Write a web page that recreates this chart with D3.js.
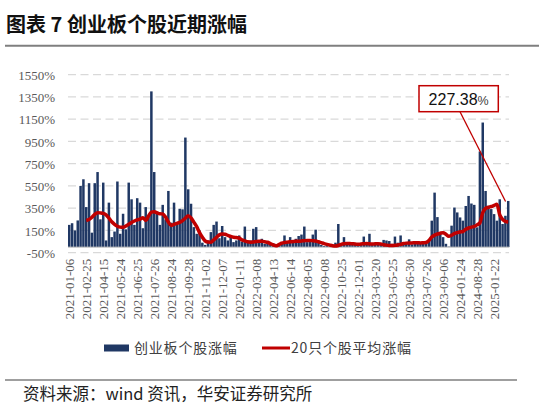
<!DOCTYPE html>
<html>
<head>
<meta charset="utf-8">
<script src="https://cdn.jsdelivr.net/npm/d3@7"></script>
<style>
  html, body { margin: 0; padding: 0; background: #fff; }
  svg { display: block; }
</style>
</head>
<body>
<div id="chart"></div>
<script>
// ── Data ─────────────────────────────────────────────────────────────────────
// x-axis labels, one every 6 bars
const tickLabels = [
  '2021-01-06', '2021-02-25', '2021-04-15', '2021-05-24', '2021-06-25', '2021-07-26',
  '2021-08-24', '2021-09-28', '2021-11-02', '2021-12-07', '2022-01-11', '2022-03-08',
  '2022-04-13', '2022-06-14', '2022-08-05', '2022-09-08', '2022-10-25', '2022-12-01',
  '2023-03-20', '2023-05-25', '2023-06-30', '2023-07-26', '2023-09-06', '2024-01-24',
  '2024-08-28', '2025-01-22'
];
const labelStep = 6;

const yTicks = [-50, 150, 350, 550, 750, 950, 1150, 1350, 1550];

// 创业板个股涨幅 (%), one bar per stock group
const stockGains = [
  200, 215, 150, 240, 550, 610, 360, 575, 130, 575,
  675, 250, 580, 60, 400, 90, 140, 590, 120, 300,
  160, 580, 430, 200, 440, 400, 170, 360, 280, 1400,
  675, 320, 200, 380, 250, 505, 220, 400, 200, 345,
  340, 985, 520, 390, 180, 120, 150, 40, 20, 60,
  135, 200, 230, 80, 190, 90, 60, 90, 45, 60,
  105, 50, 185, 40, 60, 165, 180, 40, 75, 30,
  50, 25, 35, 15, 30, 45, 105, 40, 90, 55,
  75, 100, 113, 185, 45, 60, 113, 157, 40, 20,
  10, 15, 5, 20, 40, 208, 35, 90, 30, 25,
  40, 20, 35, 30, 95, 40, 120, 30, 25, 20,
  35, 65, 60, 55, 30, 95, 40, 105, 30, 45,
  70, 25, 40, 30, 45, 35, 50, 60, 238, 490,
  270, 120, 90, 30, 5, 193, 356, 312, 267, 238,
  370, 460, 392, 380, 178, 860, 1120, 505, 372, 342,
  297, 238, 430, 208, 282, 415
];

// 20只个股平均涨幅 (%), starts at bar 6
const avgStart = 6;
const avgGains = [
  240, 248, 268, 295, 310, 308, 303, 290, 262, 228,
  205, 188, 180, 178, 190, 205, 222, 235, 245, 252,
  265, 240, 280, 315, 318, 308, 300, 298, 270, 225,
  195, 205, 214, 222, 238, 260, 282, 262, 225, 185,
  130, 89, 55, 46, 45, 65, 88, 110, 117, 115,
  106, 96, 89, 86, 82, 65, 56, 48, 45, 47,
  50, 52, 52, 48, 44, 32, 20, 12, 22, 35,
  42, 45, 48, 50, 52, 53, 55, 58, 60, 60,
  58, 55, 48, 40, 32, 25, 18, 12, 10, 15,
  25, 30, 32, 32, 30, 28, 25, 28, 30, 32,
  30, 28, 30, 30, 28, 22, 18, 15, 14, 16,
  20, 25, 32, 36, 38, 38, 40, 40, 38, 40,
  42, 60, 92, 108, 118, 125, 130, 115, 98, 108,
  122, 130, 136, 140, 160, 172, 180, 186, 200, 218,
  310, 348, 358, 365, 375, 385, 290, 250, 232, 227
];

const calloutText = '227.38';
const calloutTarget = { idx: 153, value: 410 };

const SERIF = '"Liberation Serif", "Times New Roman", serif';

// ── Layout ───────────────────────────────────────────────────────────────────
const W = 545, H = 407;
const plot = { left: 68, right: 509, top: 74.7, bottom: 252.7 };

const svg = d3.select('#chart').append('svg')
  .attr('width', W)
  .attr('height', H);

// Title
svg.append('text')
  .attr('x', 6).attr('y', 32)
  .attr('font-family', '"Noto Sans CJK SC", sans-serif')
  .attr('font-weight', 700)
  .attr('font-size', 20)
  .attr('fill', '#111')
  .text('图表 7 创业板个股近期涨幅');

svg.append('line')
  .attr('x1', 5).attr('x2', 539)
  .attr('y1', 45.7).attr('y2', 45.7)
  .attr('stroke', '#7f7f7f').attr('stroke-width', 2);

// ── Scales ───────────────────────────────────────────────────────────────────
const xScale = d3.scaleBand()
  .domain(d3.range(stockGains.length))
  .range([plot.left, plot.left + 2.83 * stockGains.length])
  .paddingInner(0.12)
  .paddingOuter(0);

const yScale = d3.scaleLinear()
  .domain([-50, 1550])
  .range([plot.bottom, plot.top]);

const xMid = i => xScale(i) + xScale.bandwidth() / 2;

// Gridlines
svg.append('g')
  .selectAll('line')
  .data(yTicks)
  .join('line')
  .attr('x1', plot.left).attr('x2', plot.right)
  .attr('y1', d => yScale(d)).attr('y2', d => yScale(d))
  .attr('stroke', '#d9d9d9')
  .attr('stroke-width', 1.3)
  .attr('stroke-dasharray', '8,4.5');

// Y axis labels
svg.append('g')
  .attr('transform', `translate(${plot.left - 13},0)`)
  .call(d3.axisLeft(yScale).tickValues(yTicks).tickSize(0).tickFormat(d => d + '%'))
  .attr('font-family', SERIF)
  .call(ax => ax.select('.domain').remove())
  .call(ax => ax.selectAll('text')
    .attr('fill', '#595959')
    .style('font-family', SERIF)
    .style('font-size', '13px')
    .attr('x', 0)
    .attr('dy', '0.35em'));

// Bars
svg.append('g')
  .selectAll('rect')
  .data(stockGains)
  .join('rect')
  .attr('x', (d, i) => xScale(i))
  .attr('width', xScale.bandwidth())
  .attr('y', d => yScale(Math.max(0, d)))
  .attr('height', d => Math.abs(yScale(d) - yScale(0)))
  .attr('fill', '#203864');

// Zero axis line
svg.append('line')
  .attr('x1', plot.left).attr('x2', plot.right)
  .attr('y1', yScale(0)).attr('y2', yScale(0))
  .attr('stroke', '#bfbfbf').attr('stroke-width', 1);

// X axis labels
svg.append('g')
  .attr('transform', `translate(0,${plot.bottom + 6})`)
  .call(d3.axisBottom(xScale)
    .tickValues(tickLabels.map((d, k) => k * labelStep))
    .tickSize(0)
    .tickFormat(i => tickLabels[i / labelStep]))
  .attr('font-family', SERIF)
  .call(ax => ax.select('.domain').remove())
  .call(ax => ax.selectAll('text')
    .attr('fill', '#595959')
    .style('font-family', SERIF)
    .style('font-size', '13px')
    .attr('transform', 'rotate(-90)')
    .attr('text-anchor', 'end')
    .attr('x', 0).attr('y', 0)
    .attr('dy', '0.35em'));

// Average line
const avgData = avgGains.map((v, k) => ({ i: avgStart + k, v }));
const line = d3.line()
  .x(d => xMid(d.i))
  .y(d => yScale(d.v))
  .curve(d3.curveMonotoneX);

svg.append('path')
  .datum(avgData)
  .attr('fill', 'none')
  .attr('stroke', '#c00000')
  .attr('stroke-width', 3.5)
  .attr('stroke-linejoin', 'round')
  .attr('d', line);

// ── Callout ──────────────────────────────────────────────────────────────────
const box = { x: 419, y: 85.7, w: 79.3, h: 26 };
svg.append('line')
  .attr('x1', 460).attr('y1', box.y + box.h)
  .attr('x2', xMid(calloutTarget.idx) + 3).attr('y2', yScale(calloutTarget.value))
  .attr('stroke', '#c00000').attr('stroke-width', 1.3);

svg.append('rect')
  .attr('x', box.x).attr('y', box.y)
  .attr('width', box.w).attr('height', box.h)
  .attr('fill', '#fff')
  .attr('stroke', '#c00000').attr('stroke-width', 1.5);

const ct = svg.append('text')
  .attr('x', box.x + box.w / 2).attr('y', box.y + 19)
  .attr('text-anchor', 'middle')
  .attr('font-family', '"Liberation Sans", Arial, sans-serif')
  .attr('fill', '#111');
ct.append('tspan').attr('font-size', 16).text(calloutText);
ct.append('tspan').attr('font-size', 12.5).attr('fill', '#404040').text('%');

// ── Legend ───────────────────────────────────────────────────────────────────
const lg = svg.append('g')
  .attr('font-family', '"Noto Sans CJK SC", sans-serif')
  .attr('font-size', 14)
  .attr('fill', '#404040');

lg.append('rect')
  .attr('x', 104).attr('y', 344.5)
  .attr('width', 25).attr('height', 7)
  .attr('fill', '#203864');
lg.append('text')
  .attr('x', 134).attr('y', 353)
  .attr('letter-spacing', 0.8)
  .text('创业板个股涨幅');

lg.append('line')
  .attr('x1', 262).attr('x2', 290)
  .attr('y1', 348).attr('y2', 348)
  .attr('stroke', '#c00000').attr('stroke-width', 3);
lg.append('text')
  .attr('x', 291).attr('y', 353)
  .attr('letter-spacing', 0.8)
  .text('20只个股平均涨幅');

// ── Source ───────────────────────────────────────────────────────────────────
svg.append('line')
  .attr('x1', 5).attr('x2', 517)
  .attr('y1', 380).attr('y2', 380)
  .attr('stroke', '#7f7f7f').attr('stroke-width', 1.5);

svg.append('text')
  .attr('x', 23).attr('y', 400)
  .attr('font-family', '"Noto Sans CJK SC", sans-serif')
  .attr('font-size', 16.5)
  .attr('fill', '#222')
  .text('资料来源：wind 资讯，华安证券研究所');
</script>
</body>
</html>
